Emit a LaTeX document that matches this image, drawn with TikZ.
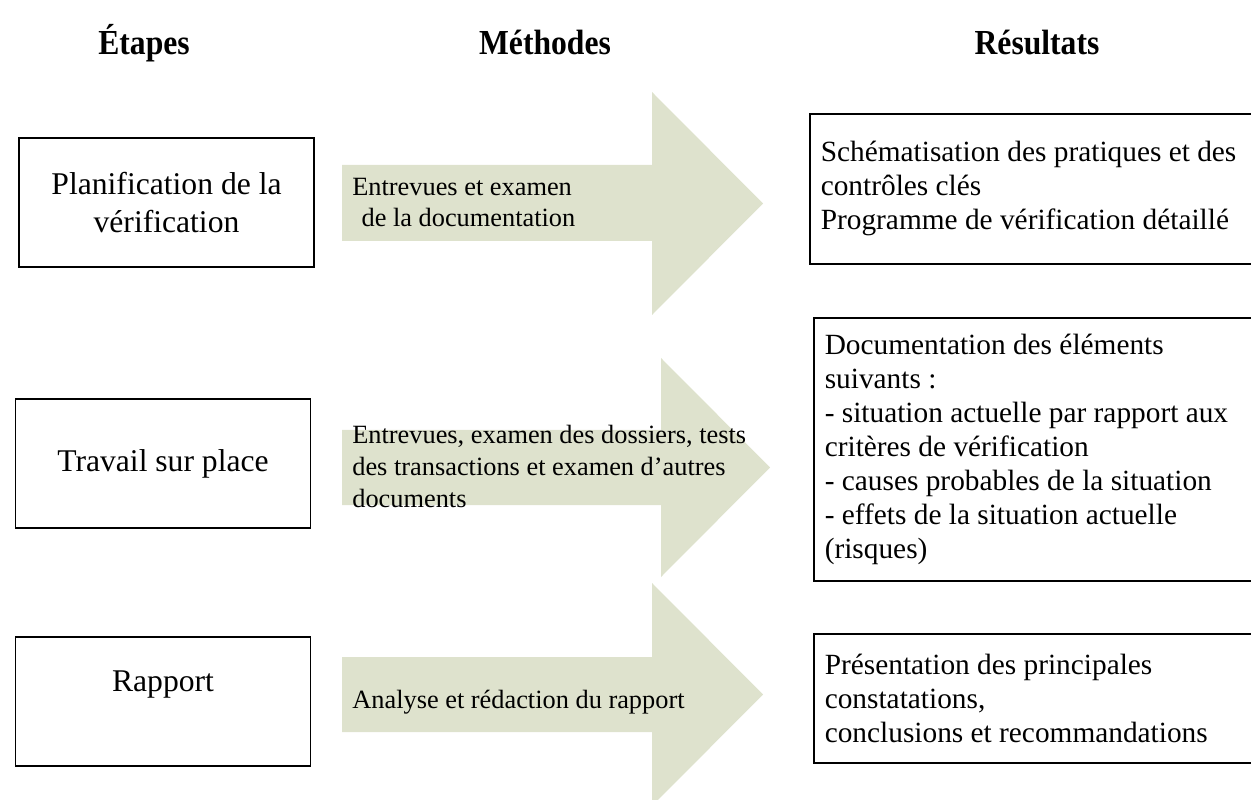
\documentclass[tikz,border=0pt]{standalone}
\usepackage{fontspec}
\setmainfont{Liberation Serif}
\newfontfamily\titrefont[FakeStretch=0.9]{Liberation Serif}
\usepackage{xcolor}
\definecolor{vertpale}{RGB}{222,226,205}

\begin{document}
\begin{tikzpicture}[
x=0.02cm, y=-0.02cm,
titre/.style = {font=\titrefont\bfseries\fontsize{20}{24}\selectfont,
                anchor=base},
etape/.style = {draw, line width=0.9pt,
                minimum width=5.9cm, minimum height=2.58cm,
                align=center, font=\fontsize{18}{21.6}\selectfont},
resultat/.style = {draw, line width=0.9pt, anchor=north west,
                inner xsep=0.22cm, text width=8.78cm, align=flush left,
                font=\fontsize{16.7}{19.4}\selectfont},
methode/.style = {anchor=base west, inner sep=0pt, align=flush left,
                font=\fontsize{15}{18}\selectfont},
fleche/.style = {fill=vertpale}
                ]
\useasboundingbox (0,0) rectangle (1251,800);
\clip (0,0) rectangle (1251,800);

%% fleches
\fill[fleche] (342,165) -- (652,165) -- (652,92) -- (763,203.5)
              -- (652,315) -- (652,241) -- (342,241) -- cycle;
\fill[fleche] (342,430) -- (661,430) -- (661,358) -- (770,467.5)
              -- (661,577) -- (661,505) -- (342,505) -- cycle;
\fill[fleche] (342,657) -- (652,657) -- (652,583) -- (763,694.5)
              -- (652,806) -- (652,732) -- (342,732) -- cycle;

%% titres
\node[titre] (t1) at (144,55)  {Étapes};
\node[titre] (t2) at (545,55)  {Méthodes};
\node[titre] (t3) at (1037,55) {Résultats};

%% etapes
\node[etape] (e1) at (166.5,202.5) {Planification de la\\vérification};
\node[etape] (e2) at (163,463.5)   {Travail sur place};
\node[etape, text depth=0.8cm] (e3) at (163,701.5) {Rapport};

%% methodes (base = derniere ligne)
\node[methode] (m1) at (352,227) {Entrevues et examen\\\hspace*{0.35em}de la documentation};
\node[methode] (m2) at (352,507) {Entrevues, examen des dossiers, tests\\des transactions et examen d’autres\\documents};
\node[methode] (m3) at (352,708) {Analyse et rédaction du rapport};

%% resultats
\node[resultat, minimum height=3cm] (r1) at (809,113)
    {Schématisation des pratiques et des\\contrôles clés\\Programme de vérification détaillé};
\node[resultat, minimum height=5.26cm] (r2) at (813,317)
    {Documentation des éléments\\suivants~:\\- situation actuelle par rapport aux\\critères de vérification\\- causes probables de la situation\\- effets de la situation actuelle\\(risques)};
\node[resultat, minimum height=2.58cm] (r3) at (813,633)
    {Présentation des principales\\constatations,\\conclusions et recommandations};
%%
\end{tikzpicture}
\end{document}
